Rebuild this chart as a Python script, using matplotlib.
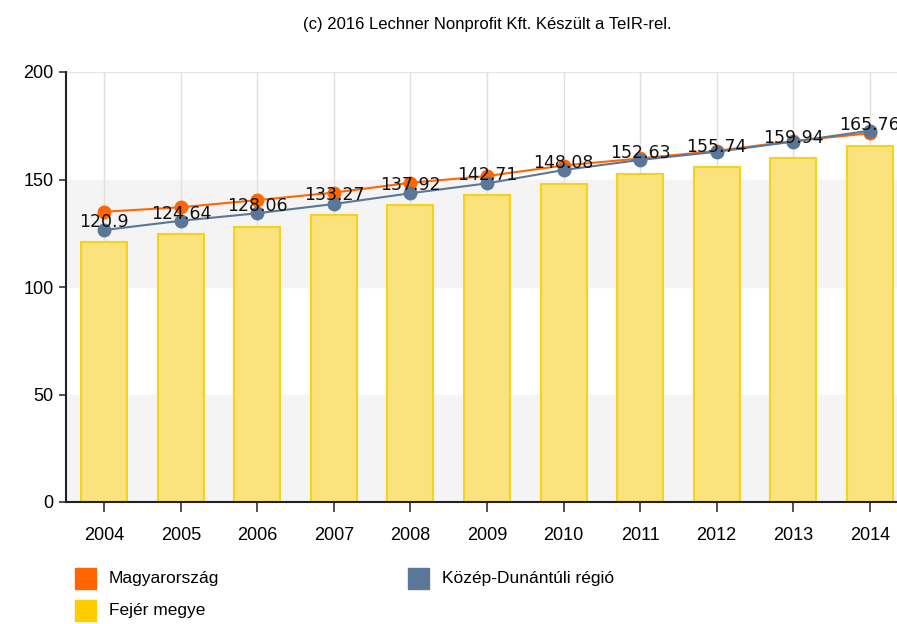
import numpy as np
import matplotlib
matplotlib.use("Agg")
from matplotlib import pyplot as plt
from matplotlib.patches import Rectangle

years = ["2004", "2005", "2006", "2007", "2008", "2009", "2010", "2011", "2012", "2013", "2014"]
fejer = [120.9, 124.64, 128.06, 133.27, 137.92, 142.71, 148.08, 152.63, 155.74, 159.94, 165.76]
magyar = [135.0, 137.1, 140.4, 143.9, 148.5, 151.6, 156.5, 159.8, 163.3, 167.9, 171.5]
kozep = [126.5, 130.8, 134.3, 138.6, 143.6, 148.2, 154.4, 159.1, 162.9, 167.6, 172.7]

legend_names = ["Magyarország", "Közép-Dunántúli régió", "Fejér megye"]
c_orange = "#ff6600"
c_blue = "#5b7797"
c_yellow = "#ffcc00"

narrow = ["Liberation Sans Narrow", "Liberation Sans", "DejaVu Sans"]

W, H = 897, 624
fig = plt.figure(figsize=(W / 100, H / 100), dpi=100)
ax = fig.add_axes([66 / W, 1 - 502 / H, 842 / W, 430 / H])

x = np.arange(len(years))
ax.set_xlim(-0.5, len(years) - 0.5)
ax.set_ylim(0, 200)

# alternating bands
for lo in (0, 100):
    ax.axhspan(lo, lo + 50, color="#f4f4f4", zorder=0)
for xi in x:
    ax.axvline(xi, color="#e0e0e0", lw=1, zorder=0.5)
ax.axhline(200, color="#e6e6e6", lw=1, zorder=0.5)

ax.bar(x, fejer, width=0.6, color="#fae27c", edgecolor="#f7d21a", lw=1.5, zorder=2)
ax.plot(x, magyar, color=c_orange, lw=1.5, marker="o", ms=9, mec=c_orange, zorder=3)
ax.plot(x, kozep, color=c_blue, lw=1.5, marker="o", ms=9, mec=c_blue, zorder=4)

for xi, v in zip(x, fejer):
    ax.text(xi, v + 9.5, f"{v:g}", ha="center", va="center", fontsize=12.5,
            color="#111111", zorder=5)

ax.set_xticks(x)
ax.set_xticklabels(years, fontfamily=narrow, fontsize=13)
ax.set_yticks([0, 50, 100, 150, 200])
ax.set_yticklabels(["0", "50", "100", "150", "200"], fontfamily=narrow, fontsize=13)
ax.tick_params(axis="x", length=7, width=1.2, color="#333333", pad=11)
ax.tick_params(axis="y", length=5, width=1.2, color="#333333", pad=4)
for s in ("top", "right"):
    ax.spines[s].set_visible(False)
for s in ("left", "bottom"):
    ax.spines[s].set_color("#222222")
    ax.spines[s].set_linewidth(1.5)

fig.text(487 / W, 1 - 25 / H, "(c) 2016 Lechner Nonprofit Kft. Készült a TeIR-rel.",
         ha="center", va="center", fontsize=12, fontfamily=["Liberation Sans", "DejaVu Sans"])

# legend
leg_items = [(75, 568, c_orange, legend_names[0]),
             (408, 568, c_blue, legend_names[1]),
             (75, 600, c_yellow, legend_names[2])]
for lx, ly, col, name in leg_items:
    fig.patches.append(Rectangle((lx / W, 1 - (ly + 21) / H), 21 / W, 21 / H,
                                 transform=fig.transFigure, color=col))
    fig.text((lx + 34) / W, 1 - (ly + 11) / H, name, ha="left", va="center",
             fontsize=12.5, fontfamily=narrow)

fig.savefig("out.png", dpi=100)
